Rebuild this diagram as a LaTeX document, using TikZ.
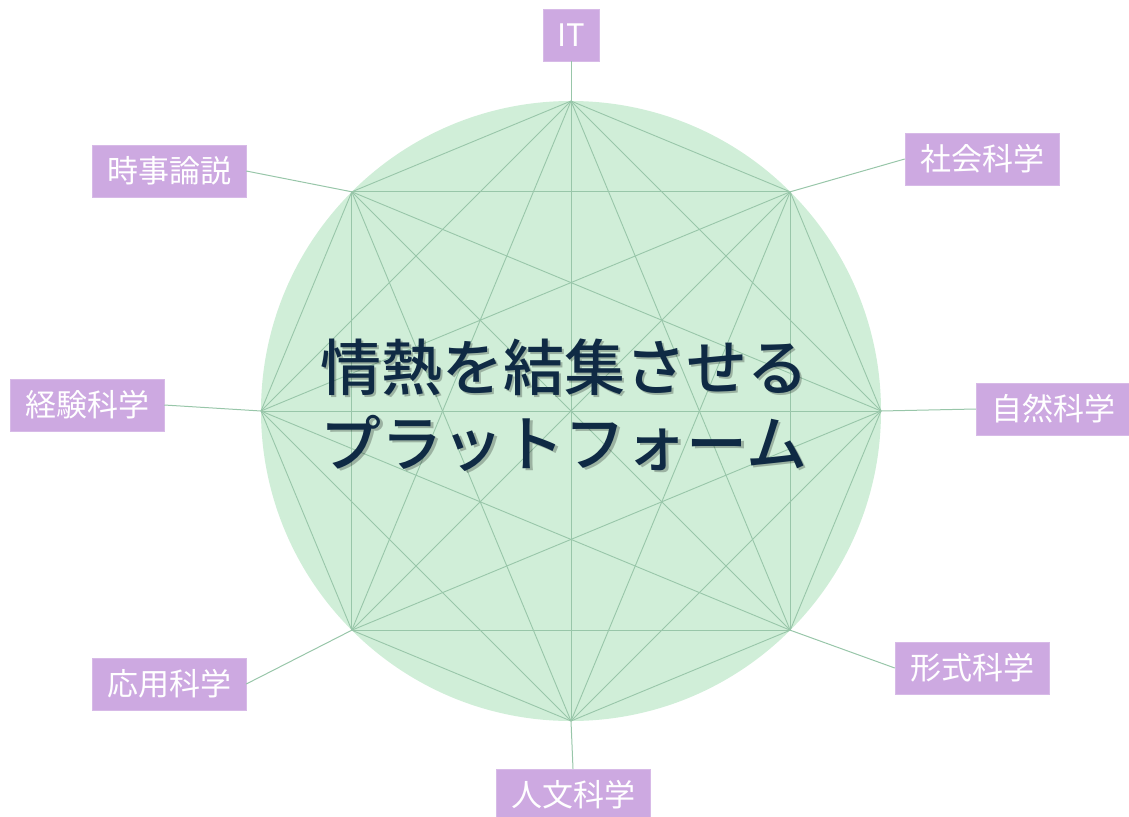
\documentclass[tikz,border=0pt]{standalone}
\usepackage{fontspec}
\setmainfont{Noto Sans CJK JP}
\newfontfamily\jpfont{Noto Sans CJK JP}
\newfontfamily\jpfontmed{Noto Sans CJK JP Medium}
\definecolor{circfill}{HTML}{D0EED8}
\definecolor{chord}{HTML}{98C6A9}
\definecolor{labfill}{HTML}{CDA9E1}
\definecolor{navy}{HTML}{0F2A44}
\tikzset{
  lab/.style={fill=labfill, draw=labfill!80!white, line width=0.5pt, text=white, inner sep=0pt,
    minimum width=154pt, minimum height=52pt, font=\jpfont\fontsize{31}{31}\selectfont},
  chordline/.style={draw=chord, line width=0.9pt},
  conn/.style={draw=chord, line width=1pt},
  title/.style={align=center, font=\jpfontmed\fontsize{61}{76}\selectfont, inner sep=0pt}
}
\begin{document}
\begin{tikzpicture}[x=1pt,y=-1pt]
\useasboundingbox (0,0) rectangle (1129,816);
\fill[circfill] (571,411) circle (310);
\coordinate (v0) at (571,101);
\coordinate (v1) at (790.2,191.8);
\coordinate (v2) at (881,411);
\coordinate (v3) at (790.2,630.2);
\coordinate (v4) at (571,721);
\coordinate (v5) at (351.8,630.2);
\coordinate (v6) at (261,411);
\coordinate (v7) at (351.8,191.8);
\foreach \i in {0,...,6} {
  \pgfmathtruncatemacro\k{\i+1}
  \foreach \j in {\k,...,7} { \draw[chordline] (v\i) -- (v\j); }
}
\node[lab, minimum width=56pt] (it) at (571,35) {IT};
\node[lab] (shakai) at (982,159) {社会科学};
\node[lab] (shizen) at (1053,409) {自然科学};
\node[lab] (keishiki) at (972,668) {形式科学};
\node[lab] (jinbun) at (573,795) {人文科学};
\node[lab] (ouyou) at (169,684) {応用科学};
\node[lab] (keiken) at (87,405) {経験科学};
\node[lab] (jiji) at (169,171) {時事論説};
\draw[conn] (v0) -- (it.south);
\draw[conn] (v1) -- (shakai.west);
\draw[conn] (v2) -- (shizen.west);
\draw[conn] (v3) -- (keishiki.west);
\draw[conn] (v4) -- (jinbun.north);
\draw[conn] (v5) -- (ouyou.east);
\draw[conn] (v6) -- (keiken.east);
\draw[conn] (v7) -- (jiji.east);
\node[title, text=black, opacity=0.25] at (566.5,407.5) {情熱を結集させる\\プラットフォーム};
\node[title, text=navy] (title) at (564,405) {情熱を結集させる\\プラットフォーム};
\end{tikzpicture}
\end{document}
